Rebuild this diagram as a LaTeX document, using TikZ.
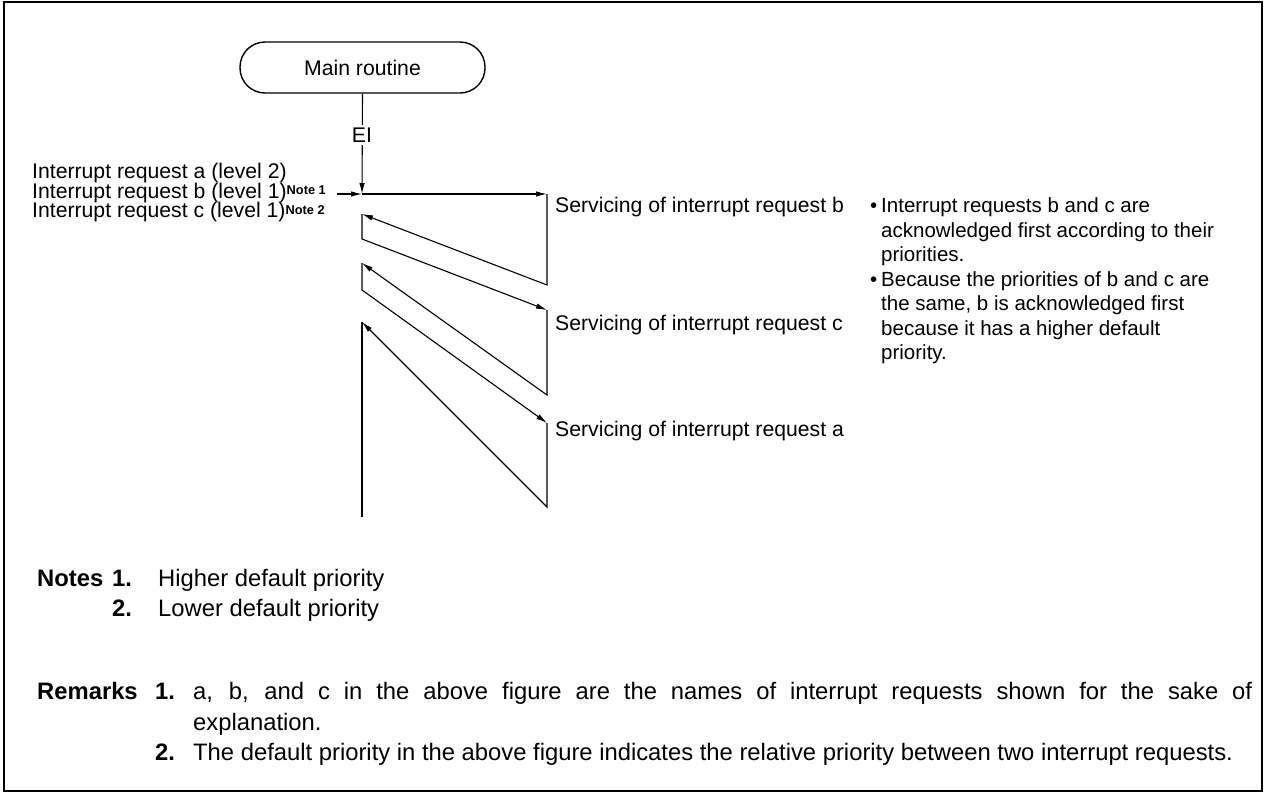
\documentclass[tikz,border=0pt]{standalone}
\usepackage{fontspec}
\setmainfont{Liberation Sans}
\usetikzlibrary{arrows.meta}
\tikzset{
  arr/.style={-{Latex[length=11pt,width=5.5pt]}},
  ln/.style={line width=1.1pt},
  txt/.style={inner sep=0pt, anchor=base west, font=\fontsize{20.5}{20.5}\selectfont},
  ltxt/.style={inner sep=0pt, anchor=base west, font=\fontsize{21.2}{21.2}\selectfont},
  ntxt/.style={inner sep=0pt, anchor=base west, font=\fontsize{23.8}{23.8}\selectfont},
  nbold/.style={ntxt, font=\fontsize{23.8}{23.8}\selectfont\bfseries},
  term/.style={draw, line width=1.4pt, rounded corners=25pt, minimum width=245pt, minimum height=51pt, inner sep=0pt, font=\fontsize{21.2}{21.2}\selectfont},
}
\newcommand{\notesup}[1]{\raisebox{3.5pt}{\fontsize{12.8}{12.8}\selectfont\bfseries #1}}
\begin{document}
\begin{tikzpicture}[x=1pt,y=-1pt]
\useasboundingbox (0,0) rectangle (1266,793);
\draw[line width=2.5pt] (4,2) rectangle (1262,791);

% main routine
\node[term] (M) at (362.5,67.5) {Main routine};

% coordinates of the flow
\coordinate (s0) at (362,194);
\coordinate (in) at (337,194);
\coordinate (b1) at (547,194);
\coordinate (b2) at (547,285);
\coordinate (r1) at (362,214);
\coordinate (r1b) at (362,239);
\coordinate (c1) at (547,310);
\coordinate (c2) at (547,395);
\coordinate (r2) at (362,263);
\coordinate (r2b) at (362,290);
\coordinate (a1) at (547,423);
\coordinate (a2) at (547,507);
\coordinate (r3) at (362,322);
\coordinate (r3b) at (362,517);

\draw[ln,arr] (M.south) -- (s0);
\node[fill=white, inner xsep=1pt, inner ysep=3pt, font=\fontsize{21.2}{21.2}\selectfont] (EI) at (362,135) {EI};
\draw[ln,arr] (in) -- (s0);
\draw[ln,arr] (s0) -- (b1);
\draw[ln,arr] (b1) -- (b2) -- (r1);
\draw[ln,arr] (r1) -- (r1b) -- (c1);
\draw[ln,arr] (c1) -- (c2) -- (r2);
\draw[ln,arr] (r2) -- (r2b) -- (a1);
\draw[ln,arr] (a1) -- (a2) -- (r3);
\draw[ln] (r3) -- (r3b);

% request labels
\node[ltxt] (la) at (32,178.5) {Interrupt request a (level 2)};
\node[ltxt] (lb) at (32,198) {Interrupt request b (level 1)\notesup{Note 1}};
\node[ltxt] (lc) at (32,217.5) {Interrupt request c (level 1)\notesup{Note 2}};

% servicing labels
\node[ltxt] (sb) at (555,212.5) {Servicing of interrupt request b};
\node[ltxt] (sc) at (555,330.5) {Servicing of interrupt request c};
\node[ltxt] (sa) at (555,436.5) {Servicing of interrupt request a};

% explanation bullets
\node[txt] (d1) at (870,212.5) {•};
\node[txt] (e1) at (881,212.5) {Interrupt requests b and c are};
\node[txt] (e2) at (881,237) {acknowledged first according to their};
\node[txt] (e3) at (881,261.5) {priorities.};
\node[txt] (d2) at (870,286) {•};
\node[txt] (e4) at (881,286) {Because the priorities of b and c are};
\node[txt] (e5) at (881,310.5) {the same, b is acknowledged first};
\node[txt] (e6) at (881,335) {because it has a higher default};
\node[txt] (e7) at (881,359.5) {priority.};

% notes
\node[nbold] (nt) at (37,586.5) {Notes};
\node[nbold] (n1) at (112,586.5) {1.};
\node[ntxt] (n1t) at (158,586.5) {Higher default priority};
\node[nbold] (n2) at (112,616) {2.};
\node[ntxt] (n2t) at (158,616) {Lower default priority};

% remarks
\node[nbold] (rm) at (37,699.5) {Remarks};
\node[nbold] (m1) at (155,699.5) {1.};
\node[ntxt] (m1t) at (193,699.5) {\makebox[1059pt][s]{a, b, and c in the above figure are the names of interrupt requests shown for the sake of}};
\node[ntxt] (m1u) at (193,730.5) {explanation.};
\node[nbold] (m2) at (155,760.5) {2.};
\node[ntxt] (m2t) at (193,760.5) {The default priority in the above figure indicates the relative priority between two interrupt requests.};
\end{tikzpicture}
\end{document}
